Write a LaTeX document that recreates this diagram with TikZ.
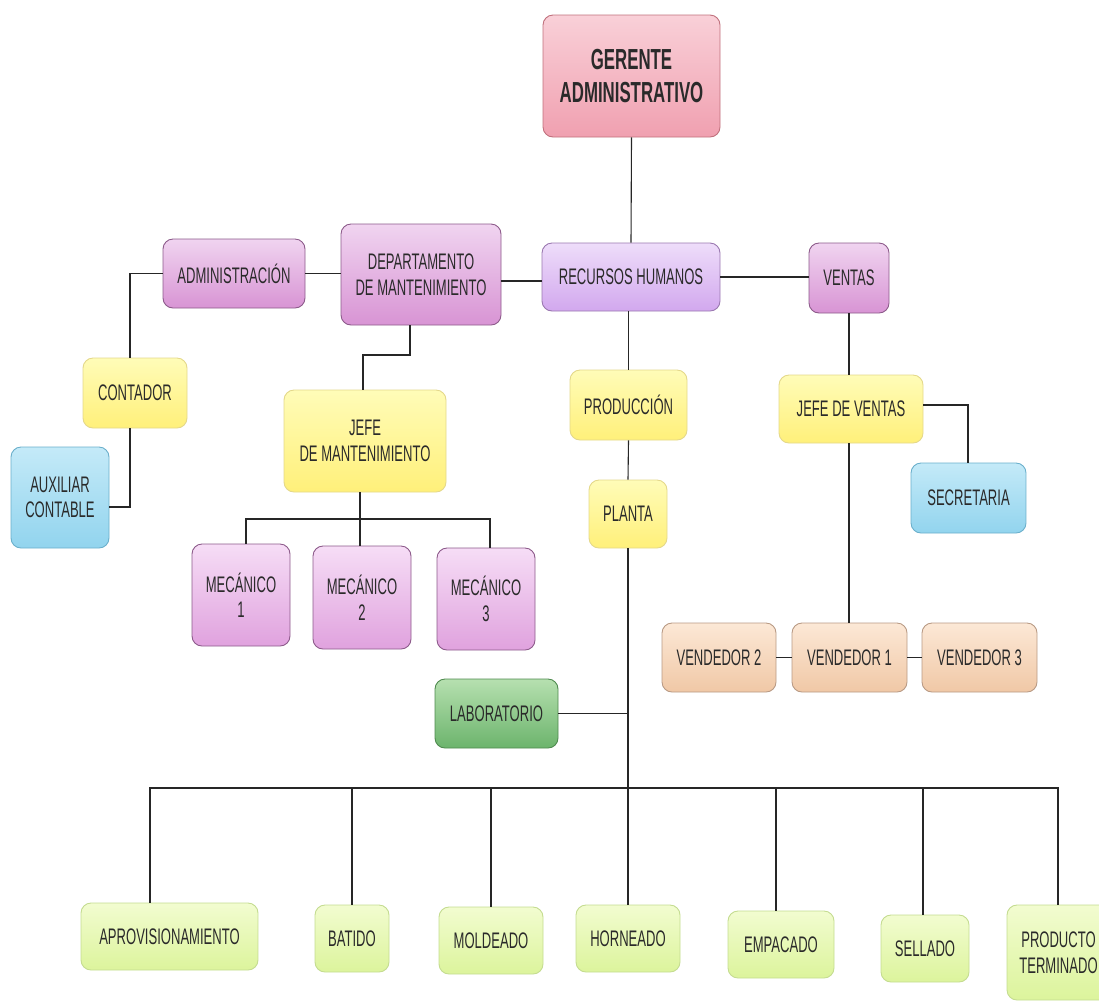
\documentclass[tikz,border=0pt]{standalone}
\usepackage{fontspec}
\setmainfont[FakeStretch=0.58]{Liberation Sans}
\definecolor{pkT}{HTML}{F9D0D8}\definecolor{pkB}{HTML}{F0A0B0}\definecolor{pkD}{HTML}{C0707C}
\definecolor{puT}{HTML}{F0D4F0}\definecolor{puB}{HTML}{D894D4}\definecolor{puD}{HTML}{8C5A8A}
\definecolor{laT}{HTML}{EEDDFA}\definecolor{laB}{HTML}{D2A8EE}\definecolor{laD}{HTML}{9A78B0}
\definecolor{meT}{HTML}{F6DDF6}\definecolor{meB}{HTML}{E0A2DE}
\definecolor{yeT}{HTML}{FFFCB8}\definecolor{yeB}{HTML}{FFF07A}\definecolor{yeD}{HTML}{E4D88A}
\definecolor{blT}{HTML}{C4EAF8}\definecolor{blB}{HTML}{92D4EE}\definecolor{blD}{HTML}{6AAFCB}
\definecolor{taT}{HTML}{FCE8D6}\definecolor{taB}{HTML}{F0C8A6}\definecolor{taD}{HTML}{B89A84}
\definecolor{grT}{HTML}{B6E0B0}\definecolor{grB}{HTML}{6CB46C}\definecolor{grD}{HTML}{4E8A4E}
\definecolor{liT}{HTML}{F2FCD0}\definecolor{liB}{HTML}{DCF49C}\definecolor{liD}{HTML}{C4DC90}
\definecolor{txt}{HTML}{2A2A2A}
\begin{document}
\begin{tikzpicture}[x=1pt,y=-1pt,
  box/.style={draw, rounded corners=10pt, line width=0.9pt, align=center, inner sep=2pt,
     font=\fontsize{22.5}{25.5}\selectfont, text=txt},
  pinkbox/.style={box, draw=pkD, top color=pkT, bottom color=pkB},
  purplebox/.style={box, draw=puD, top color=puT, bottom color=puB},
  lavbox/.style={box, draw=laD, top color=laT, bottom color=laB},
  mecbox/.style={box, draw=puD, top color=meT, bottom color=meB},
  yellowbox/.style={box, draw=yeD, top color=yeT, bottom color=yeB},
  bluebox/.style={box, draw=blD, top color=blT, bottom color=blB},
  tanbox/.style={box, draw=taD, top color=taT, bottom color=taB},
  greenbox/.style={box, draw=grD, top color=grT, bottom color=grB},
  limebox/.style={box, draw=liD, top color=liT, bottom color=liB},
  conn/.style={draw=black!85, line width=1.1pt}]
\useasboundingbox (0,0) rectangle (1099,1005);

% top
\node[pinkbox, minimum width=177, minimum height=122, font=\fontsize{29}{33}\selectfont\bfseries] (ger) at (631.5,76) {GERENTE\\ADMINISTRATIVO};

% second level
\node[purplebox, minimum width=142, minimum height=69] (adm) at (234,273.5) {ADMINISTRACIÓN};
\node[purplebox, minimum width=160, minimum height=101] (dep) at (421,274.5) {DEPARTAMENTO\\DE MANTENIMIENTO};
\node[lavbox, minimum width=178, minimum height=68] (rrhh) at (631,277) {RECURSOS HUMANOS};
\node[purplebox, minimum width=80, minimum height=70] (ven) at (849,278) {VENTAS};

% third level
\node[yellowbox, minimum width=104, minimum height=70] (cont) at (135,393) {CONTADOR};
\node[yellowbox, minimum width=162, minimum height=102] (jman) at (365,441) {JEFE\\DE MANTENIMIENTO};
\node[yellowbox, minimum width=117, minimum height=70] (prod) at (628.5,405) {PRODUCCIÓN};
\node[yellowbox, minimum width=144, minimum height=68] (jven) at (851,409) {JEFE DE VENTAS};

\node[bluebox, minimum width=98, minimum height=101] (aux) at (60,497.5) {AUXILIAR\\CONTABLE};
\node[bluebox, minimum width=115, minimum height=70] (sec) at (968.5,498) {SECRETARIA};
\node[yellowbox, minimum width=78, minimum height=68] (plan) at (628,514) {PLANTA};

\node[mecbox, minimum width=98, minimum height=102] (m1) at (241,595) {MECÁNICO\\1};
\node[mecbox, minimum width=98, minimum height=103] (m2) at (362,597.5) {MECÁNICO\\2};
\node[mecbox, minimum width=98, minimum height=102] (m3) at (486,599) {MECÁNICO\\3};

\node[tanbox, minimum width=114, minimum height=69] (v2) at (719,657.5) {VENDEDOR 2};
\node[tanbox, minimum width=115, minimum height=69] (v1) at (849.5,657.5) {VENDEDOR 1};
\node[tanbox, minimum width=115, minimum height=69] (v3) at (979.5,657.5) {VENDEDOR 3};

\node[greenbox, minimum width=123, minimum height=69] (lab) at (496.5,713.5) {LABORATORIO};

% bottom row
\node[limebox, minimum width=177, minimum height=67] (apr) at (169.5,936.5) {APROVISIONAMIENTO};
\node[limebox, minimum width=74, minimum height=67] (bat) at (352,938.5) {BATIDO};
\node[limebox, minimum width=104, minimum height=67] (mol) at (491,940.5) {MOLDEADO};
\node[limebox, minimum width=104, minimum height=67] (hor) at (628,938.5) {HORNEADO};
\node[limebox, minimum width=106, minimum height=67] (emp) at (781,944.5) {EMPACADO};
\node[limebox, minimum width=88, minimum height=67] (sel) at (925,948.5) {SELLADO};
\node[limebox, minimum width=103, minimum height=95] (pt) at (1058.5,952.5) {PRODUCTO\\TERMINADO};

% connectors
\draw[conn] (ger.south) -- (rrhh.north);
\draw[conn] (adm.east) -- (dep.west |- adm.east);
\draw[conn] (dep.east |- 0,281) -- (rrhh.west |- 0,281);
\draw[conn] (rrhh.east) -- (ven.west |- rrhh.east);

\coordinate (admL) at (130,273.5);
\draw[conn] (adm.west) -- (admL) -- (cont.north -| admL);
\coordinate (contB) at (130,507);
\draw[conn] (cont.south -| contB) -- (contB) -- (aux.east |- contB);

\coordinate (depB) at (410,355);
\coordinate (jmT) at (363,355);
\draw[conn] (dep.south -| depB) -- (depB) -- (jmT) -- (jman.north -| jmT);

\coordinate (mbus) at (360,519);
\draw[conn] (jman.south -| mbus) -- (mbus);
\draw[conn] (m1.north -| 246,0) -- (246,519) -- (490,519) -- (m3.north -| 490,0);
\draw[conn] (mbus) -- (m2.north -| mbus);

\draw[conn] (rrhh.south -| prod.north) -- (prod.north);
\draw[conn] (prod.south) -- (plan.north);

\coordinate (pbus) at (628,788);
\draw[conn] (plan.south) -- (pbus);
\draw[conn] (lab.east) -- (lab.east -| pbus);
\draw[conn] (pbus) -- (hor.north -| pbus);

\draw[conn] (apr.north -| 150,0) -- (150,788) -- (1058,788) -- (pt.north -| 1058,0);
\draw[conn] (bat.north) -- (bat.north |- pbus);
\draw[conn] (mol.north) -- (mol.north |- pbus);
\draw[conn] (emp.north -| 776,0) -- (776,788);
\draw[conn] (sel.north -| 923,0) -- (923,788);

\draw[conn] (ven.south -| 849,0) -- (jven.north -| 849,0);
\coordinate (jvR) at (968,405);
\draw[conn] (jven.east |- jvR) -- (jvR) -- (sec.north -| jvR);
\draw[conn] (jven.south -| 849,0) -- (v1.north -| 849,0);
\draw[conn] (v2.east) -- (v1.west);
\draw[conn] (v1.east) -- (v3.west);
\end{tikzpicture}
\end{document}
